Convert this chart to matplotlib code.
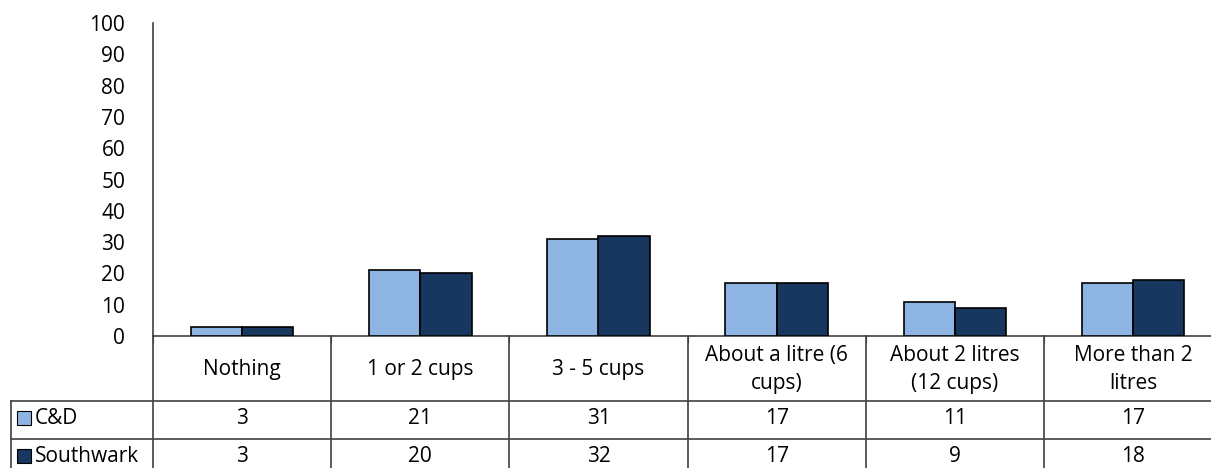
import numpy as np
import matplotlib.pyplot as plt

categories = ["Nothing", "1 or 2 cups", "3 - 5 cups", "About a litre (6\ncups)",
              "About 2 litres\n(12 cups)", "More than 2\nlitres"]
series_names = ["C&D", "Southwark"]
cd_values = [3, 21, 31, 17, 11, 17]
southwark_values = [3, 20, 32, 17, 9, 18]
colors = ["#8EB4E3", "#17375E"]

plt.rcParams['font.family'] = ['Open Sans', 'DejaVu Sans']
fs = 15
W, H = 1211, 468
fig = plt.figure(figsize=(W / 100, H / 100), dpi=100)

# chart area in pixels (the right side runs past the picture edge)
x0, x1 = 153, 153 + 6 * 178.2
ytop, ybase = 23, 336
ax = fig.add_axes([x0 / W, (H - ybase) / H, (x1 - x0) / W, (ybase - ytop) / H])

x = np.arange(len(categories))
bw = 0.288
vals = [cd_values, southwark_values]
for i, v in enumerate(vals):
    ax.bar(x - bw / 2 + i * bw, v, bw, color=colors[i], edgecolor="black", linewidth=1.2, zorder=3)

ax.set_xlim(-0.5, len(categories) - 0.5)
ax.set_ylim(0, 100)
ax.set_yticks(np.arange(0, 101, 10))
ax.tick_params(axis='y', length=0, labelsize=fs, pad=20)
ax.set_xticks(np.arange(-0.5, len(categories), 1))
ax.set_xticklabels([])
ax.tick_params(axis='x', length=5, direction='out', color="#404040")
for s in ["top", "right"]:
    ax.spines[s].set_visible(False)
ax.spines["left"].set_color("#404040")
ax.spines["bottom"].set_color("#404040")
ax.spines["left"].set_linewidth(1.2)
ax.spines["bottom"].set_linewidth(1.2)

# data table drawn in pixel space
tab = fig.add_axes([0, 0, 1, 1])
tab.set_xlim(0, W)
tab.set_ylim(H, 0)
tab.axis("off")
cw = 178.2
rows = [336, 401, 439, 477]
lc = "#404040"
left = 11
for i in range(7):
    xi = x0 + i * cw
    tab.plot([xi, xi], [rows[0], rows[-1]], color=lc, lw=1.2)
tab.plot([left, left], [rows[1], rows[-1]], color=lc, lw=1.2)
for r in rows[1:3]:
    tab.plot([left, x1], [r, r], color=lc, lw=1.2)

for i, c in enumerate(categories):
    tab.text(x0 + (i + 0.5) * cw, (rows[0] + rows[1]) / 2 + 1, c, ha="center", va="center",
             fontsize=fs, linespacing=1.4)
for j, v in enumerate(vals):
    yc = (rows[j + 1] + rows[j + 2]) / 2 - 2
    tab.add_patch(plt.Rectangle((17, yc - 7), 14, 14, facecolor=colors[j], edgecolor="black", lw=0.8))
    tab.text(35, yc, series_names[j], ha="left", va="center", fontsize=fs)
    for i, val in enumerate(v):
        tab.text(x0 + (i + 0.5) * cw, yc, str(val), ha="center", va="center", fontsize=fs)

fig.savefig("out.png", dpi=100)
